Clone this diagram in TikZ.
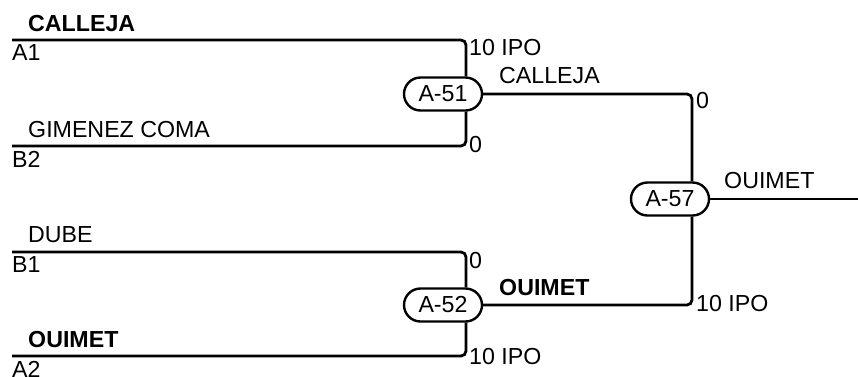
\documentclass[tikz,border=0pt]{standalone}
\usepackage{fontspec}
\setmainfont{Liberation Sans}
\usetikzlibrary{shapes.misc}
\begin{document}
\begin{tikzpicture}[x=1pt,y=-1pt,
  txt/.style={inner sep=0pt,anchor=base west,font=\fontsize{23.2}{27}\selectfont},
  btxt/.style={txt,font=\fontsize{23.2}{27}\selectfont\bfseries},
  game/.style={draw,line width=2.4pt,rounded rectangle,minimum width=78pt,minimum height=33pt,inner sep=0pt,font=\fontsize{23.2}{27}\selectfont},
  conn/.style={line width=2.8pt,rounded corners=5pt}]
\useasboundingbox (0,0) rectangle (858,376);
% game nodes
\node[game] (n51) at (443,94) {A-51};
\node[game] (n52) at (443,305) {A-52};
\node[game] (n57) at (670,199) {A-57};
% free ends
\coordinate (a1) at (12,40);
\coordinate (b2) at (12,146);
\coordinate (b1) at (12,252);
\coordinate (a2) at (12,356);
\coordinate (win) at (858,199);
% connectors
\draw[conn] (a1) -| ([xshift=23pt]n51.north);
\draw[conn] (b2) -| ([xshift=23pt]n51.south);
\draw[conn] (b1) -| ([xshift=23pt]n52.north);
\draw[conn] (a2) -| ([xshift=23pt]n52.south);
\draw[conn] (n51.east) -| ([xshift=22pt]n57.north);
\draw[conn] (n52.east) -| ([xshift=22pt]n57.south);
\draw[conn] (n57.east) -- (win);
% left labels
\node[btxt] (l1) at (28,31) {CALLEJA};
\node[txt] (s1) at (12,60) {A1};
\node[txt] (l2) at (28,137) {GIMENEZ COMA};
\node[txt] (s2) at (12,167) {B2};
\node[txt] (l3) at (28,242) {DUBE};
\node[txt] (s3) at (12,272) {B1};
\node[btxt] (l4) at (28,347) {OUIMET};
\node[txt] (s4) at (12,377) {A2};
% scores and winners
\node[txt] (r1) at (469,55) {10 IPO};
\node[txt] (r2) at (469,152) {0};
\node[txt] (r3) at (469,268) {0};
\node[txt] (r4) at (469,364) {10 IPO};
\node[txt] (w51) at (499,83) {CALLEJA};
\node[btxt] (w52) at (499,295) {OUIMET};
\node[txt] (r5) at (696,108) {0};
\node[txt] (r6) at (696,311) {10 IPO};
\node[txt] (w57) at (724,188) {OUIMET};
\end{tikzpicture}
\end{document}
